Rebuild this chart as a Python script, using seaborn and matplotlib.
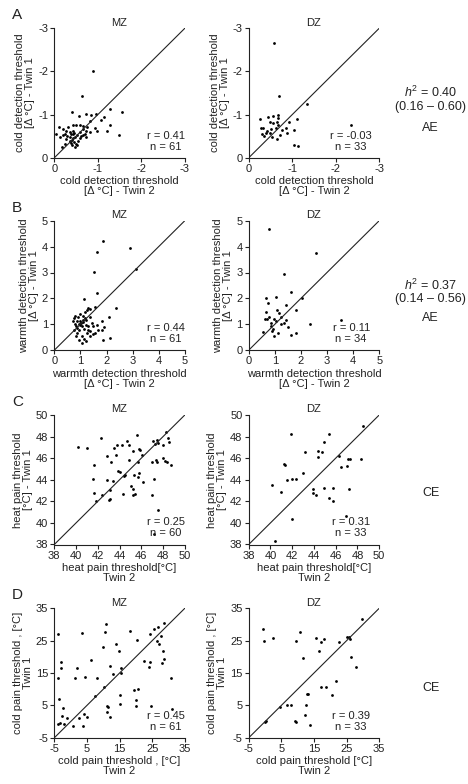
import matplotlib
matplotlib.use("Agg")
import matplotlib.pyplot as plt
import seaborn as sns

# ---- data ----
# A: cold detection threshold (delta C, negative)
a_mz_x = [-0.88, -0.63, -0.40, -0.74, -0.96, -1.28, -1.56, -1.14, -1.08, -0.56, -0.44, -0.50, -0.67, -0.82, -1.28,
          -0.93, -0.98, -1.22, -1.48, -0.10, -0.21, -0.28, -0.35, -0.05, -0.13, -0.25, -0.38, -0.44, -0.48, -0.53,
          -0.59, -0.65, -0.72, -0.76, -0.81, -0.28, -0.40, -0.45, -0.50, -0.48, -0.40, -0.35, -0.17, -0.25, -0.59,
          -0.65, -0.73, -0.55, -0.36, -0.32, -0.42, -0.60, -0.30, -0.44, -0.52, -0.20, -0.70, -0.85, -0.46, -0.38, -0.62]
a_mz_y = [-2.00, -1.43, -1.07, -1.02, -1.02, -1.12, -1.05, -0.94, -0.88, -0.96, -0.77, -0.75, -0.73, -0.86, -0.77,
          -0.70, -0.63, -0.62, -0.53, -0.71, -0.67, -0.63, -0.59, -0.54, -0.49, -0.56, -0.54, -0.56, -0.49, -0.52,
          -0.59, -0.67, -0.62, -0.71, -0.59, -0.44, -0.42, -0.36, -0.31, -0.26, -0.29, -0.40, -0.25, -0.32, -0.46,
          -0.52, -0.48, -0.40, -0.49, -0.71, -0.63, -0.75, -0.50, -0.46, -0.30, -0.52, -0.55, -1.00, -0.58, -0.35, -0.50]
a_dz_x = [-0.58, -0.70, -1.33, -2.36, -1.04, -1.14, -0.26, -0.45, -0.57, -0.67, -0.68, -1.10, -0.93, -0.85, -0.77,
          -0.49, -0.57, -0.64, -0.28, -0.34, -0.43, -0.52, -0.62, -0.68, -0.31, -0.39, -0.35, -0.54, -0.64, -0.73,
          -0.87, -1.03, -0.49]
a_dz_y = [-2.67, -1.44, -1.25, -0.76, -0.30, -0.28, -0.89, -0.95, -0.97, -0.99, -0.92, -0.91, -0.82, -0.68, -0.64,
          -0.84, -0.80, -0.84, -0.70, -0.68, -0.63, -0.66, -0.68, -0.76, -0.56, -0.58, -0.50, -0.49, -0.43, -0.53,
          -0.58, -0.64, -0.58]

# B: warmth detection threshold
b_mz_x = [1.88, 2.91, 1.63, 3.14, 1.53, 1.64, 1.12, 1.56, 2.37, 1.31, 1.37, 0.79, 0.76, 1.00, 1.18, 1.24, 1.09,
          0.88, 1.09, 1.82, 2.08, 1.63, 1.91, 1.82, 2.14, 1.85, 0.99, 1.05, 1.22, 1.31, 1.50, 0.83, 0.76, 0.86,
          0.96, 1.12, 1.27, 1.37, 0.83, 1.05, 1.14, 1.37, 1.50, 1.05, 1.22, 0.95, 0.99, 1.04, 0.94, 1.09, 1.18,
          0.81, 0.88, 1.55, 1.28, 1.69, 1.44, 1.35, 0.91, 1.22, 0.73]
b_mz_y = [4.22, 3.96, 3.78, 3.13, 3.03, 2.21, 1.96, 1.67, 1.63, 1.63, 1.59, 1.33, 1.24, 1.41, 1.46, 1.54, 1.33,
          1.12, 1.08, 1.12, 1.28, 0.99, 0.90, 0.79, 0.47, 0.41, 0.99, 0.92, 0.99, 0.95, 0.92, 0.92, 0.79, 0.67,
          0.77, 0.82, 0.67, 0.73, 0.54, 0.56, 0.44, 0.54, 0.64, 0.26, 0.35, 0.41, 1.12, 1.05, 1.03, 1.18, 1.24,
          1.03, 0.86, 0.67, 0.79, 0.79, 1.05, 1.28, 1.28, 1.18, 1.12]
b_dz_x = [0.79, 2.59, 1.35, 1.61, 2.05, 0.68, 1.06, 0.75, 1.44, 1.10, 1.80, 0.65, 1.16, 0.77, 0.63, 0.69, 0.97,
          1.03, 1.42, 3.55, 0.84, 1.22, 1.35, 2.35, 0.87, 1.52, 0.94, 0.56, 1.14, 1.80, 0.97, 1.61, 0.90, 1.25]
b_dz_y = [4.67, 3.77, 2.95, 2.24, 2.01, 2.01, 2.06, 1.83, 1.76, 1.57, 1.55, 1.47, 1.42, 1.28, 1.19, 1.19, 1.19,
          1.13, 1.15, 1.18, 1.06, 1.00, 1.06, 1.00, 0.93, 0.91, 0.83, 0.70, 0.68, 0.68, 0.55, 0.59, 0.75, 1.30]

# C: heat pain threshold
c_mz_x = [40.15, 40.98, 42.28, 41.69, 41.54, 41.69, 41.82, 42.43, 43.14, 42.89, 42.89, 43.23, 43.51, 43.75, 43.69,
          43.85, 44.06, 43.38, 44.37, 44.52, 44.25, 44.68, 44.83, 44.83, 45.20, 45.60, 45.66, 45.75, 45.85, 46.06,
          45.35, 45.75, 45.66, 45.08, 45.20, 45.38, 45.23, 44.28, 43.14, 46.12, 47.00, 47.14, 47.00, 47.38, 47.45,
          47.50, 47.14, 47.05, 47.30, 47.45, 47.50, 48.00, 48.50, 48.55, 48.30, 47.97, 48.15, 48.37, 48.77, 43.05]
c_mz_y = [47.02, 46.92, 47.91, 45.38, 44.06, 42.77, 42.00, 42.62, 43.08, 44.00, 46.22, 45.69, 46.92, 47.23, 46.31,
          44.83, 44.68, 43.85, 44.31, 44.46, 47.20, 47.57, 47.23, 45.85, 46.62, 48.15, 45.60, 46.83, 46.77, 46.31,
          44.46, 44.62, 44.25, 43.38, 43.17, 42.71, 42.55, 42.71, 42.22, 43.75, 42.62, 44.06, 45.69, 45.85, 45.69,
          41.17, 38.98, 47.60, 47.29, 47.69, 47.38, 47.20, 47.85, 47.54, 48.46, 46.00, 45.75, 45.60, 45.38, 42.15]
c_dz_x = [41.86, 45.38, 48.50, 44.92, 43.17, 44.40, 44.73, 44.40, 46.33, 47.15, 47.34, 48.29, 46.45, 47.03, 41.24,
          41.30, 42.99, 41.55, 41.95, 42.35, 40.11, 40.94, 43.91, 43.94, 44.15, 44.92, 45.74, 47.18, 45.35, 45.72,
          41.95, 46.97, 40.45]
c_dz_y = [48.28, 48.28, 48.95, 47.51, 46.59, 46.65, 46.59, 46.13, 46.22, 45.94, 45.94, 45.94, 45.15, 45.27, 45.45,
          45.36, 44.60, 43.98, 44.07, 44.07, 43.52, 42.91, 43.15, 42.75, 42.60, 43.27, 43.27, 43.12, 42.29, 41.99,
          40.36, 40.60, 38.34]

# D: cold pain threshold
d_mz_x = [-3.77, 3.41, 10.90, 10.59, 9.87, 13.97, 14.69, 18.08, 20.33, 24.23, 25.67, 26.79, 28.74, 26.49, 27.00,
          27.72, 28.23, 28.54, 28.13, 24.44, 22.59, 23.92, 6.18, -3.05, -3.05, 2.08, -3.77, 1.36, 4.44, 8.03,
          12.13, 15.51, 15.51, 12.95, 30.90, -3.46, -2.23, 7.62, 10.28, 11.10, 11.41, 11.10, 11.92, 15.20, 15.20,
          19.31, 20.64, 20.13, 20.13, 24.74, -2.64, -3.77, -3.26, -2.03, 0.85, 2.69, 4.23, 5.15, 3.72, 31.10, -1.00]
d_mz_y = [26.94, 27.45, 30.04, 27.76, 23.11, 23.84, 21.87, 28.07, 25.18, 26.94, 28.60, 29.32, 30.56, 24.87, 23.94,
          26.42, 21.87, 19.19, 17.95, 18.46, 18.67, 16.91, 18.98, 18.46, 16.60, 16.60, 13.60, 13.60, 13.71, 13.60,
          17.12, 16.71, 15.16, 14.64, 13.60, 7.09, 4.20, 7.92, 10.71, 4.92, 4.51, 2.96, 1.41, 5.34, 8.23,
          9.68, 10.09, 6.78, 4.82, 4.72, 1.62, -0.66, -0.45, -0.66, -1.28, 1.20, 2.24, 1.41, -1.49, 3.99, 1.00]
d_dz_x = [-0.51, -0.31, 2.35, 10.71, 9.49, 15.61, 17.24, 18.06, 16.63, 11.63, 22.65, 25.00, 25.82, 29.80, 26.43,
          27.76, 21.84, 17.24, 18.78, 20.41, 13.16, 6.84, 7.86, 12.65, 12.24, 9.18, 9.59, 13.67, 4.49, -0.10,
          0.30, 26.00, 12.90]
d_dz_y = [28.54, 24.95, 25.97, 27.56, 24.85, 25.97, 24.64, 25.56, 21.67, 19.62, 24.54, 26.28, 26.28, 31.82, 19.82,
          16.95, 12.44, 10.59, 10.69, 8.13, 8.54, 5.26, 5.05, 5.05, 1.97, 0.13, -0.08, -0.90, 4.64, -0.18,
          0.10, 25.60, 8.50]

stats_r = ["0.41", "-0.03", "0.44", "0.11", "0.25", "0.31", "0.45", "0.39"]
stats_n = ["61", "33", "61", "34", "60", "33", "61", "33"]

a_ticks = [0, -1, -2, -3]
b_ticks = [0, 1, 2, 3, 4, 5]
c_ticks = [38, 40, 42, 44, 46, 48, 50]
d_ticks = [-5, 5, 15, 25, 35]

sns.set_style("ticks")
plt.rcParams["font.family"] = ["Liberation Sans", "DejaVu Sans"]
plt.rcParams["axes.unicode_minus"] = False
plt.rcParams["mathtext.fontset"] = "custom"
plt.rcParams["mathtext.it"] = "Liberation Sans:italic"
plt.rcParams["mathtext.rm"] = "Liberation Sans"

fig = plt.figure(figsize=(4.68, 7.84), dpi=100)

fs = 8
ink = "#222222"
lefts = [54.3 / 468, 248.7 / 468]
w = 130.5 / 468
rows_top = [28.3, 220.7, 415.0, 608.3]
h = 129.5 / 784


def panel(ax, x, y, ticks, xlabel, ylabel, title, r, n, tx):
    sns.scatterplot(x=x, y=y, ax=ax, color="black", s=4, linewidth=0, legend=False)
    ax.axline((ticks[0], ticks[0]), slope=1, color=ink, lw=0.8, zorder=1)
    ax.set_xlim(ticks[0], ticks[-1])
    ax.set_ylim(ticks[0], ticks[-1])
    ax.set_xticks(ticks)
    ax.set_yticks(ticks)
    ax.tick_params(labelsize=fs, length=3, width=0.8, pad=1.5, colors=ink)
    for s in ["left", "bottom"]:
        ax.spines[s].set_linewidth(0.8)
        ax.spines[s].set_color(ink)
    sns.despine(ax=ax)
    ax.set_xlabel(xlabel, fontsize=fs, linespacing=1.0, labelpad=1.5, color=ink)
    ax.set_ylabel(ylabel, fontsize=fs, linespacing=1.0, labelpad=2, color=ink)
    ax.set_title(title, fontsize=fs, pad=2, color=ink)
    ax.text(tx, 0.17, "r = " + r, transform=ax.transAxes, ha="center", va="center", fontsize=fs, color=ink)
    ax.text(tx, 0.085, "n = " + n, transform=ax.transAxes, ha="center", va="center", fontsize=fs, color=ink)


xs = [a_mz_x, a_dz_x, b_mz_x, b_dz_x, c_mz_x, c_dz_x, d_mz_x, d_dz_x]
ys = [a_mz_y, a_dz_y, b_mz_y, b_dz_y, c_mz_y, c_dz_y, d_mz_y, d_dz_y]
tick_sets = [a_ticks, b_ticks, c_ticks, d_ticks]
xlabels = [
    ["cold detection threshold\n[\u0394 \u00b0C] - Twin 2"] * 2,
    ["warmth detection threshold\n[\u0394 \u00b0C] - Twin 2"] * 2,
    ["heat pain threshold[\u00b0C]\nTwin 2"] * 2,
    ["cold pain threshold , [\u00b0C]\nTwin 2", "cold pain threshold [\u00b0C]\nTwin 2"],
]
ylabels = [
    "cold detection threshold\n[\u0394 \u00b0C] - Twin 1",
    "warmth detection threshold\n[\u0394 \u00b0C] - Twin 1",
    "heat pain threshold\n[\u00b0C] - Twin 1",
    "cold pain threshold , [\u00b0C]\nTwin 1",
]

for i in range(4):
    bottom = 1 - (rows_top[i] + 129.5) / 784
    for j in range(2):
        k = i * 2 + j
        ax = fig.add_axes([lefts[j], bottom, w, h])
        panel(ax, xs[k], ys[k], tick_sets[i], xlabels[i][j], ylabels[i],
              ["MZ", "DZ"][j], stats_r[k], stats_n[k], [0.855, 0.785][j])
    fig.text(12 / 468, 1 - (rows_top[i] - 13) / 784, "ABCD"[i], fontsize=11, ha="left", va="center", color=ink)

# heritability / model annotations
side_x = 430.7 / 468
fig.text(side_x, 1 - 92.7 / 784, r"$h^2$ = 0.40", ha="center", va="center", fontsize=9, color=ink)
fig.text(side_x, 1 - 107.3 / 784, "(0.16 \u2013 0.60)", ha="center", va="center", fontsize=9, color=ink)
fig.text(side_x, 1 - 127.7 / 784, "AE", ha="center", va="center", fontsize=9, color=ink)
fig.text(side_x, 1 - 285 / 784, r"$h^2$ = 0.37", ha="center", va="center", fontsize=9, color=ink)
fig.text(side_x, 1 - 299.3 / 784, "(0.14 \u2013 0.56)", ha="center", va="center", fontsize=9, color=ink)
fig.text(side_x, 1 - 317.7 / 784, "AE", ha="center", va="center", fontsize=9, color=ink)
fig.text(side_x, 1 - 493.3 / 784, "CE", ha="center", va="center", fontsize=9, color=ink)
fig.text(side_x, 1 - 688.3 / 784, "CE", ha="center", va="center", fontsize=9, color=ink)

fig.savefig("out.png", dpi=100)
